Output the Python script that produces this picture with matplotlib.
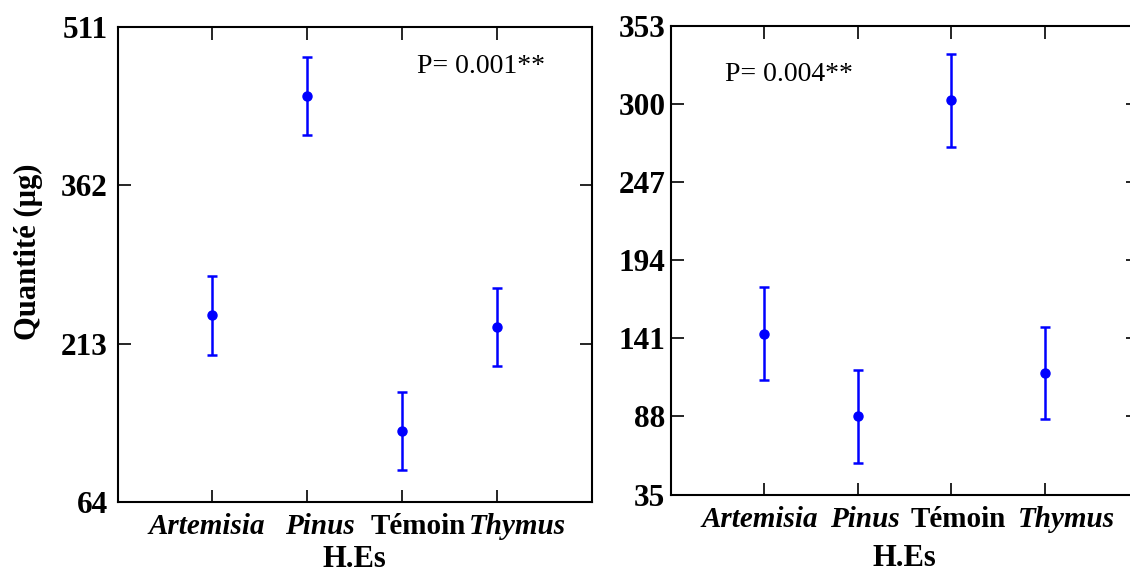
import matplotlib
matplotlib.use("Agg")
import matplotlib.pyplot as plt
import matplotlib.transforms as mtransforms

plt.rcParams["font.family"] = ["Liberation Serif", "DejaVu Serif"]

# Data
categories = ["Artemisia", "Pinus", "Témoin", "Thymus"]
italic_cat = [True, True, False, True]

left_means = [239.7, 446.1, 131.0, 228.4]
left_errs = [37.0, 36.7, 36.6, 36.7]
left_ticks = [64, 213, 362, 511]
left_p = "P= 0.001**"

right_means = [144.1, 88.0, 302.6, 117.5]
right_errs = [31.5, 31.4, 31.5, 31.5]
right_ticks = [35, 88, 141, 194, 247, 300, 353]
right_p = "P= 0.004**"

fig = plt.figure(figsize=(11.3, 5.74), dpi=100)
ax1 = fig.add_axes([0.1040, 0.1249, 0.4195, 0.8286])
ax2 = fig.add_axes([0.5938, 0.1385, 0.4133, 0.8162])


def draw_panel(ax, means, errs, yticks, ptext, pxy, ypad, shifts, xpad):
    x = list(range(1, len(categories) + 1))
    ax.errorbar(x, means, yerr=errs, fmt="o", color="#0000ff", ms=6.5,
                elinewidth=1.8, capsize=3.6, capthick=1.8)
    ax.set_xlim(0, 5)
    ax.set_ylim(yticks[0], yticks[-1])
    ax.set_yticks(yticks)
    ax.set_xticks(x)
    ax.set_xticklabels(categories)
    for spine in ax.spines.values():
        spine.set_linewidth(1.5)
    ax.tick_params(direction="in", top=True, right=True, length=9, width=1.2)
    ax.tick_params(axis="y", labelsize=22.5, pad=ypad)
    ax.tick_params(axis="x", labelsize=21, pad=8)
    for lab in ax.get_yticklabels():
        lab.set_fontweight("bold")
    for lab, it, dx in zip(ax.get_xticklabels(), italic_cat, shifts):
        lab.set_fontweight("bold")
        if it:
            lab.set_fontstyle("italic")
        lab.set_transform(lab.get_transform() +
                          mtransforms.ScaledTranslation(dx / 100, 0, fig.dpi_scale_trans))
    ax.set_xlabel("H.Es", fontsize=22, fontweight="bold", labelpad=xpad)
    ax.text(pxy[0], pxy[1], ptext, transform=ax.transAxes, fontsize=20,
            ha="left", va="baseline")


draw_panel(ax1, left_means, left_errs, left_ticks, left_p, (0.632, 0.903),
           7, [-5, 13, 16, 21], 3)
draw_panel(ax2, right_means, right_errs, right_ticks, right_p, (0.116, 0.883),
           4, [-5, 7, 7, 22], 8)

ax1.set_ylabel("Quantité (µg)", fontsize=22, fontweight="bold")
ax1.yaxis.set_label_coords(-0.158, 0.526)

fig.savefig("out.png", dpi=100)
